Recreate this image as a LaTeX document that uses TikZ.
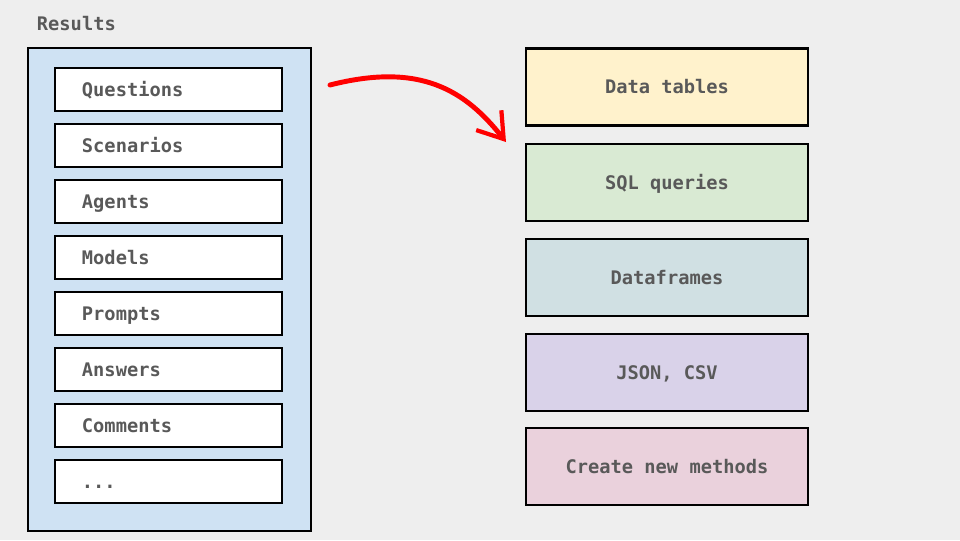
\documentclass[tikz,border=0pt]{standalone}
\usepackage{fontspec}
\setmonofont{DejaVu Sans Mono}
\usepackage{xcolor}
\usetikzlibrary{arrows.meta, positioning}
\definecolor{bgc}{HTML}{EEEEEE}
\definecolor{txt}{HTML}{595959}
\definecolor{resblue}{HTML}{CFE2F3}
\definecolor{c1}{HTML}{FFF2CC}
\definecolor{c2}{HTML}{D9EAD3}
\definecolor{c3}{HTML}{D0E0E3}
\definecolor{c4}{HTML}{D9D2E9}
\definecolor{c5}{HTML}{EAD1DC}
\definecolor{pen}{HTML}{FF0000}

\begin{document}
\begin{tikzpicture}[
    x=0.025cm, y=-0.025cm,
    font=\ttfamily\bfseries\fontsize{13.3}{15}\selectfont,
    text=txt,
    box/.style={draw=black, line width=2pt, inner sep=0pt,
                text height=1em, text depth=0.05em},
    outer/.style={box, fill=resblue, minimum width=7.075cm, minimum height=12.075cm},
    item/.style={box, fill=white, minimum width=5.675cm, minimum height=1.075cm,
                 text width=4.325cm, inner xsep=0.675cm, align=left},
    usebox/.style={box, minimum width=7.05cm, minimum height=1.925cm, align=center},
    arr/.style={draw=pen, line width=3.5pt, line cap=round,
                -{Straight Barb[length=6mm, width=8mm, line width=3pt]}}]
    \fill[bgc] (0,0) rectangle (960,540);
    \useasboundingbox (0,0) rectangle (960,540);
    \node[anchor=west] (title) at (32,24) {Results};
    \node[outer] (res) at (169.5,289.5) {};
    \node[item] (q)  at (168.5,89.5)  {Questions};
    \node[item] (sc) at (168.5,145.5) {Scenarios};
    \node[item] (ag) at (168.5,201.5) {Agents};
    \node[item] (mo) at (168.5,257.5) {Models};
    \node[item] (pr) at (168.5,313.5) {Prompts};
    \node[item] (an) at (168.5,369.5) {Answers};
    \node[item] (co) at (168.5,425.5) {Comments};
    \node[item] (et) at (168.5,481.5) {...};
    \node[usebox, fill=c1] (tab)  at (667,87)    {Data tables};
    \node[usebox, fill=c2] (sql)  at (667,182.5) {SQL queries};
    \node[usebox, fill=c3] (df)   at (667,277.5) {Dataframes};
    \node[usebox, fill=c4] (json) at (667,372.5) {JSON, CSV};
    \node[usebox, fill=c5] (meth) at (667,466.5) {Create new methods};
    \coordinate (from) at (330,85);
    \coordinate (to) at (506,142);
    \draw[arr] (from) .. controls (420,62) and (465,90) .. (to);
  \end{tikzpicture}
\end{document}
